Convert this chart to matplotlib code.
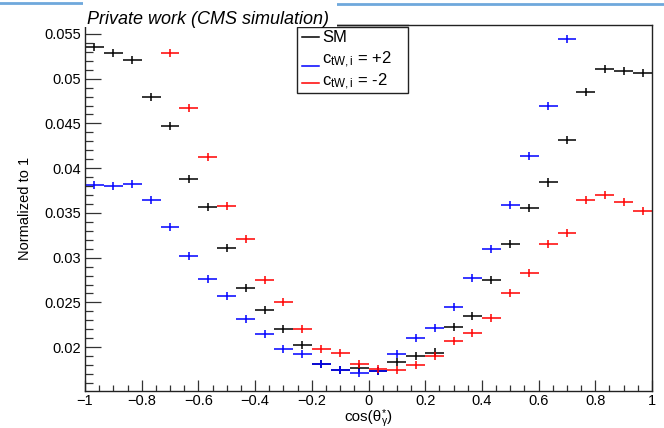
import numpy as np
import matplotlib
matplotlib.use("Agg")
import matplotlib.pyplot as plt
from matplotlib.lines import Line2D
from matplotlib.patches import Rectangle
from matplotlib.ticker import MultipleLocator, FixedLocator, FixedFormatter

plt.rcParams['font.family'] = ['Liberation Sans', 'DejaVu Sans']
plt.rcParams['mathtext.fontset'] = 'custom'
plt.rcParams['mathtext.rm'] = 'Liberation Sans'
plt.rcParams['mathtext.it'] = 'Liberation Sans:italic'

nan = np.nan
# 30 bins in cos(theta*_gamma) from -1 to 1
bin_edges = np.linspace(-1.0, 1.0, 31)

sm = [0.0535, 0.0529, 0.0521, 0.0480, 0.0447, 0.0388, 0.0357, 0.0311, 0.0266, 0.0242,
      0.0220, 0.0202, 0.0181, 0.0174, 0.0177, 0.0173, 0.0183, 0.0190, 0.0194, 0.0222,
      0.0235, 0.0275, 0.0315, 0.0356, 0.0384, 0.0431, 0.0485, 0.0511, 0.0509, 0.0506]
ctw_plus2 = [0.0381, 0.0380, 0.0382, 0.0364, 0.0334, 0.0302, 0.0276, 0.0257, 0.0231, 0.0215,
             0.0198, 0.0192, 0.0181, 0.0174, 0.0171, 0.0173, 0.0192, 0.0210, 0.0221, 0.0245,
             0.0277, 0.0310, 0.0359, 0.0414, 0.0470, 0.0544, nan, nan, nan, nan]
ctw_minus2 = [nan, nan, nan, nan, 0.0529, 0.0467, 0.0413, 0.0358, 0.0321, 0.0275,
              0.0250, 0.0220, 0.0198, 0.0193, 0.0181, 0.0176, 0.0174, 0.0180, 0.0190, 0.0207,
              0.0216, 0.0233, 0.0261, 0.0283, 0.0315, 0.0328, 0.0364, 0.0370, 0.0362, 0.0352]
stat_err = 0.00045

xtick_vals = [-1, -0.8, -0.6, -0.4, -0.2, 0, 0.2, 0.4, 0.6, 0.8, 1]
xtick_labels = ['\u22121', '\u22120.8', '\u22120.6', '\u22120.4', '\u22120.2', '0',
                '0.2', '0.4', '0.6', '0.8', '1']
ytick_vals = [0.02, 0.025, 0.03, 0.035, 0.04, 0.045, 0.05, 0.055]
ytick_labels = ['0.02', '0.025', '0.03', '0.035', '0.04', '0.045', '0.05', '0.055']

series = [("SM", sm, "black"), ("+2", ctw_plus2, "#0000ff"), ("-2", ctw_minus2, "#ff0000")]

W, H = 664, 428
fig = plt.figure(figsize=(W / 100, H / 100), dpi=100)
L, R, T, B = 85, 652, 25, 391
ax = fig.add_axes([L / W, 1 - B / H, (R - L) / W, (B - T) / H])

centers = 0.5 * (bin_edges[:-1] + bin_edges[1:])
halfw = 0.5 * np.diff(bin_edges)
for name, vals, col in series:
    ax.errorbar(centers, np.array(vals, dtype=float), xerr=halfw, yerr=stat_err,
                fmt='none', ecolor=col, elinewidth=1.1, capsize=0)

ax.set_xlim(-1, 1)
ax.set_ylim(0.0151, 0.0560)
ax.xaxis.set_major_locator(FixedLocator(xtick_vals))
ax.xaxis.set_major_formatter(FixedFormatter(xtick_labels))
ax.xaxis.set_minor_locator(MultipleLocator(0.05))
ax.yaxis.set_major_locator(FixedLocator(ytick_vals))
ax.yaxis.set_major_formatter(FixedFormatter(ytick_labels))
ax.yaxis.set_minor_locator(MultipleLocator(0.001))
ax.tick_params(axis='both', which='both', direction='in', top=False, right=False,
               labelsize=10.5, width=0.9, color='#333333')
ax.tick_params(axis='x', which='major', length=8, pad=2.5)
ax.tick_params(axis='x', which='minor', length=4.3)
ax.tick_params(axis='y', which='major', length=11.5, pad=3)
ax.tick_params(axis='y', which='minor', length=5.8)
for s in ax.spines.values():
    s.set_linewidth(1.0)
    s.set_color('#222222')

def fx(px):
    return px / W

def fy(py):
    return 1 - py / H

# decorative top lines and white title box
fig.add_artist(Line2D([fx(0), fx(83)], [fy(2.5), fy(2.5)], color='#6fa8dc', lw=2))
fig.add_artist(Line2D([fx(337), fx(664)], [fy(4), fy(4)], color='#6fa8dc', lw=2))
fig.add_artist(Rectangle((fx(83), fy(27)), fx(337) - fx(83), fy(0) - fy(27),
                         facecolor='white', edgecolor='none', zorder=5))
fig.text(fx(87), fy(24), 'Private work (CMS simulation)', fontsize=13, style='italic',
         ha='left', va='baseline', zorder=6)

# legend
fig.add_artist(Rectangle((fx(297), fy(93)), fx(408) - fx(297), fy(27) - fy(93),
                         facecolor='white', edgecolor='#222222', lw=1.0, zorder=4))
fig.add_artist(Line2D([fx(337), fx(408)], [fy(25), fy(25)], color='#222222', lw=1.0, zorder=4))
leg_rows = [(37, 37, 'SM', 'black'),
            (66, 60, 'c$_{\\mathrm{tW,i}}$ = +2', '#0000ff'),
            (83, 82, 'c$_{\\mathrm{tW,i}}$ = -2', '#ff0000')]
for ly, ty, txt, col in leg_rows:
    fig.add_artist(Line2D([fx(302), fx(319)], [fy(ly), fy(ly)], color=col, lw=1.1, zorder=6))
    fig.text(fx(322), fy(ty), txt, fontsize=12, ha='left', va='center', zorder=6)

# axis titles
fig.text(fx(25), fy(208), 'Normalized to 1', fontsize=10.5, rotation=90,
         ha='center', va='center')

# x title cos(theta*_gamma), built from pieces
renderer = fig.canvas.get_renderer()
base = 421.5
t1 = fig.text(fx(344), fy(base), 'cos(\u03b8', fontsize=11, ha='left', va='baseline')
x1 = t1.get_window_extent(renderer).x1
t2 = fig.text(fx(x1 + 0.5), fy(base - 5.5), '*', fontsize=7.5, ha='left', va='baseline')
t3 = fig.text(fx(x1 + 0.5), fy(base + 3), '\u03b3', fontsize=7.5, ha='left', va='baseline')
x2 = max(t2.get_window_extent(renderer).x1, t3.get_window_extent(renderer).x1)
fig.text(fx(x2 + 0.5), fy(base), ')', fontsize=11, ha='left', va='baseline')

fig.savefig('out.png', dpi=100)
